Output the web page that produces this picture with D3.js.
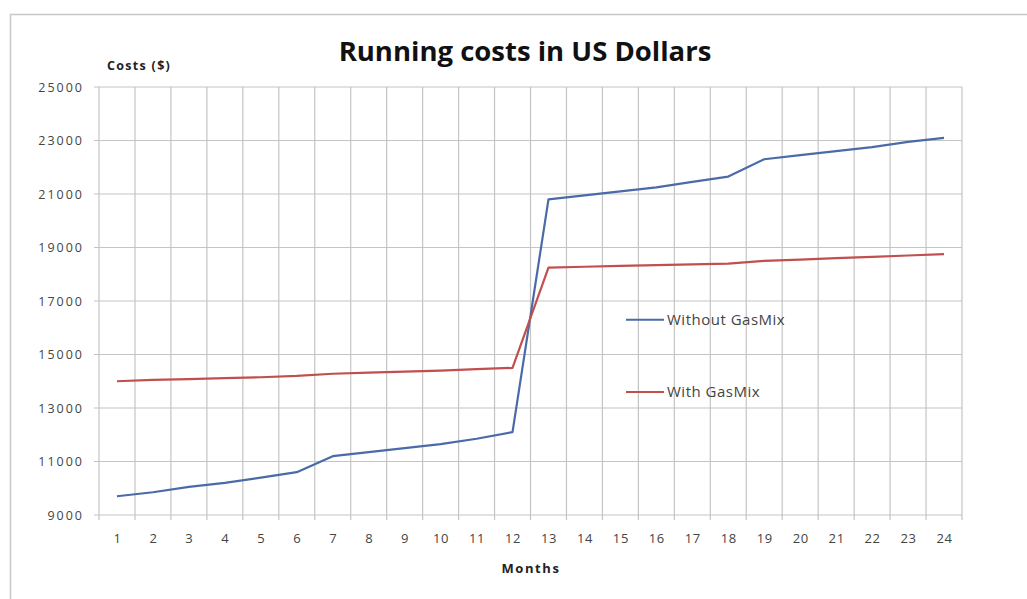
<!DOCTYPE html>
<html><head><meta charset="utf-8">
<script src="https://cdn.jsdelivr.net/npm/d3@7/dist/d3.min.js"></script>
<style>body{margin:0;background:#fff;}svg{display:block;}</style>
</head><body>
<svg id="c" width="1027" height="599"></svg>
<script>
const months = d3.range(1, 25);
const withoutGasMix = [9700, 9850, 10050, 10200, 10400, 10600, 11200, 11350, 11500, 11650, 11850, 12100,
  20800, 20950, 21100, 21250, 21450, 21650, 22300, 22450, 22600, 22750, 22950, 23100];
const withGasMix = [14000, 14050, 14080, 14120, 14150, 14200, 14280, 14320, 14360, 14400, 14450, 14500,
  18250, 18280, 18310, 18340, 18370, 18400, 18500, 18550, 18600, 18650, 18700, 18750];
const yTicks = [9000, 11000, 13000, 15000, 17000, 19000, 21000, 23000, 25000];
const seriesNames = ["Without GasMix", "With GasMix"];
const seriesColors = ["#4a6aa8", "#c0504d"];

const svg = d3.select("#c");
const L = 99, R = 962, T = 87, B = 515;
const FONT = "Open Sans, sans-serif";

// outer frame
svg.append("rect").attr("x", 10.5).attr("y", 14.5).attr("width", 1030).attr("height", 600)
  .attr("fill", "none").attr("stroke", "#c8c8c8").attr("stroke-width", 1.5);

const x = d3.scaleBand().domain(months).range([L, R]);
const y = d3.scaleLinear().domain([9000, 25000]).range([B, T]);

// horizontal gridlines
svg.append("g").selectAll("line").data(yTicks).join("line")
  .attr("x1", L - 5).attr("x2", R).attr("y1", d => y(d)).attr("y2", d => y(d))
  .attr("stroke", "#c4c4c4").attr("stroke-width", 1.2);

// vertical gridlines at category boundaries
const bounds = months.map(m => x(m)).concat([R]);
svg.append("g").selectAll("line").data(bounds).join("line")
  .attr("x1", d => d).attr("x2", d => d).attr("y1", T).attr("y2", B + 5)
  .attr("stroke", "#c4c4c4").attr("stroke-width", 1.2);

// y axis labels
svg.append("g").selectAll("text").data(yTicks).join("text")
  .attr("x", 84).attr("y", d => y(d) + 4.5).attr("text-anchor", "end")
  .attr("font-family", FONT).attr("font-size", 12.5).attr("letter-spacing", 2).attr("fill", "#444")
  .text(d => d);

// x axis labels
svg.append("g").selectAll("text").data(months).join("text")
  .attr("x", d => x(d) + x.bandwidth() / 2 + 0.5).attr("y", 543).attr("text-anchor", "middle")
  .attr("font-family", FONT).attr("font-size", 13).attr("letter-spacing", 0.6).attr("fill", "#444")
  .text(d => d);

// lines
const line = d3.line().x((d, i) => x(months[i]) + x.bandwidth() / 2).y(d => y(d));
[withoutGasMix, withGasMix].forEach((vals, k) => {
  svg.append("path").datum(vals).attr("d", line).attr("fill", "none")
    .attr("stroke", seriesColors[k]).attr("stroke-width", 2.2).attr("stroke-linejoin", "round");
});

// legend
const legendY = [y(16300), y(13600)];
seriesNames.forEach((n, k) => {
  svg.append("line").attr("x1", 626).attr("x2", 664).attr("y1", legendY[k]).attr("y2", legendY[k])
    .attr("stroke", seriesColors[k]).attr("stroke-width", 2);
  svg.append("text").attr("x", 667).attr("y", legendY[k] + 5)
    .attr("font-family", FONT).attr("font-size", 15).attr("letter-spacing", 0.5).attr("fill", "#444").text(n);
});

// title & axis titles
svg.append("text").attr("x", 525).attr("y", 61).attr("text-anchor", "middle")
  .attr("font-family", FONT).attr("font-weight", "bold").attr("font-size", 27.5)
  .attr("fill", "#111").text("Running costs in US Dollars");
svg.append("text").attr("x", 107).attr("y", 70)
  .attr("font-family", FONT).attr("font-weight", "bold").attr("font-size", 12.5).attr("letter-spacing", 1.3)
  .attr("fill", "#222").text("Costs ($)");
svg.append("text").attr("x", 531).attr("y", 573).attr("text-anchor", "middle")
  .attr("font-family", FONT).attr("font-weight", "bold").attr("font-size", 13).attr("letter-spacing", 1.6)
  .attr("fill", "#222").text("Months");
</script>
</body></html>
